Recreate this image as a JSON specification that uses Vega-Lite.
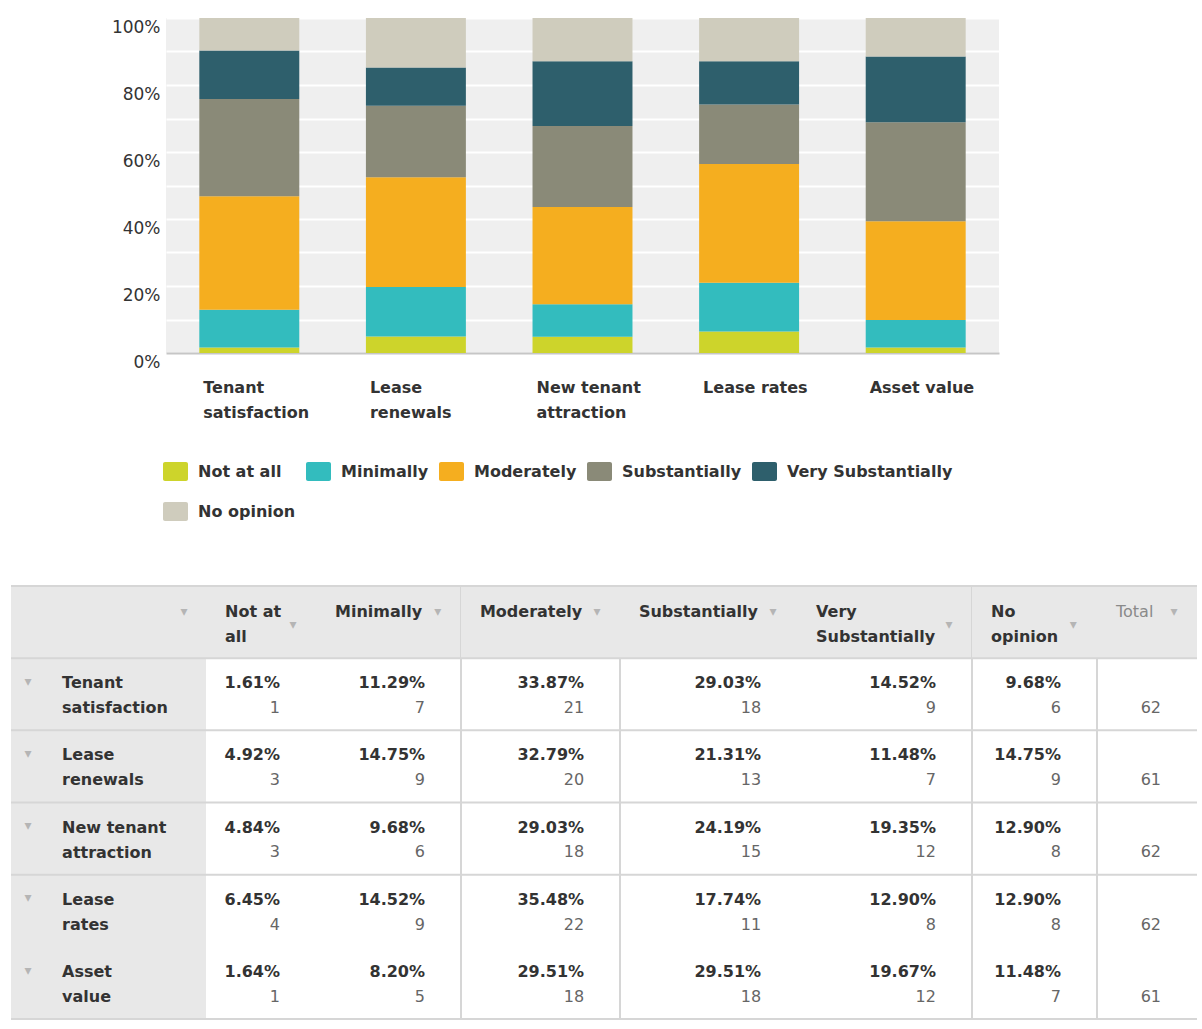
{
"$schema": "https://vega.github.io/schema/vega-lite/v6.json",
"background": "#ffffff",
"padding": {"left": 10, "top": 18, "right": 0, "bottom": 0},
"bounds": "flush",
"spacing": 568,
"config": {"font": "DejaVu Sans", "view": {"stroke": null}},
"resolve": {"scale": {"color": "independent"}, "legend": {"color": "independent"}},
"datasets": {"survey": [
{"category": "Tenant satisfaction", "response": "Not at all", "count": 1, "pct": 1.61},
{"category": "Tenant satisfaction", "response": "Minimally", "count": 7, "pct": 11.29},
{"category": "Tenant satisfaction", "response": "Moderately", "count": 21, "pct": 33.87},
{"category": "Tenant satisfaction", "response": "Substantially", "count": 18, "pct": 29.03},
{"category": "Tenant satisfaction", "response": "Very Substantially", "count": 9, "pct": 14.52},
{"category": "Tenant satisfaction", "response": "No opinion", "count": 6, "pct": 9.68},
{"category": "Lease renewals", "response": "Not at all", "count": 3, "pct": 4.92},
{"category": "Lease renewals", "response": "Minimally", "count": 9, "pct": 14.75},
{"category": "Lease renewals", "response": "Moderately", "count": 20, "pct": 32.79},
{"category": "Lease renewals", "response": "Substantially", "count": 13, "pct": 21.31},
{"category": "Lease renewals", "response": "Very Substantially", "count": 7, "pct": 11.48},
{"category": "Lease renewals", "response": "No opinion", "count": 9, "pct": 14.75},
{"category": "New tenant attraction", "response": "Not at all", "count": 3, "pct": 4.84},
{"category": "New tenant attraction", "response": "Minimally", "count": 6, "pct": 9.68},
{"category": "New tenant attraction", "response": "Moderately", "count": 18, "pct": 29.03},
{"category": "New tenant attraction", "response": "Substantially", "count": 15, "pct": 24.19},
{"category": "New tenant attraction", "response": "Very Substantially", "count": 12, "pct": 19.35},
{"category": "New tenant attraction", "response": "No opinion", "count": 8, "pct": 12.90},
{"category": "Lease rates", "response": "Not at all", "count": 4, "pct": 6.45},
{"category": "Lease rates", "response": "Minimally", "count": 9, "pct": 14.52},
{"category": "Lease rates", "response": "Moderately", "count": 22, "pct": 35.48},
{"category": "Lease rates", "response": "Substantially", "count": 11, "pct": 17.74},
{"category": "Lease rates", "response": "Very Substantially", "count": 8, "pct": 12.90},
{"category": "Lease rates", "response": "No opinion", "count": 8, "pct": 12.90},
{"category": "Asset value", "response": "Not at all", "count": 1, "pct": 1.64},
{"category": "Asset value", "response": "Minimally", "count": 5, "pct": 8.20},
{"category": "Asset value", "response": "Moderately", "count": 18, "pct": 29.51},
{"category": "Asset value", "response": "Substantially", "count": 18, "pct": 29.51},
{"category": "Asset value", "response": "Very Substantially", "count": 12, "pct": 19.67},
{"category": "Asset value", "response": "No opinion", "count": 7, "pct": 11.48}
]},
"vconcat": [
{
"bounds": "flush",
"spacing": 0,
"resolve": {"scale": {"color": "independent"}, "legend": {"color": "independent"}},
"hconcat": [
{"width": 155, "height": 335, "data": {"values": [{"blank": ""}]}, "mark": {"type": "text", "text": ""}},
{
"width": 833, "height": 335,
"data": {"name": "survey"},
"view": {"fill": "#efefef", "stroke": null},
"transform": [{"calculate": "indexof(['Not at all', 'Minimally', 'Moderately', 'Substantially', 'Very Substantially', 'No opinion'], datum.response)", "as": "level"}],
"mark": {"type": "bar"},
"encoding": {
"x": {"field": "category", "type": "nominal", "title": null,
"sort": ["Tenant satisfaction", "Lease renewals", "New tenant attraction", "Lease rates", "Asset value"],
"scale": {"paddingInner": 0.4, "paddingOuter": 0.2},
"axis": {"labelAngle": 0, "labelAlign": "left", "labelOffset": -46, "labelBaseline": "top", "labelPadding": 26, "labelLineHeight": 25, "labelFontSize": 16, "labelFontWeight": "bold", "labelColor": "#333333", "ticks": false, "domainColor": "#c6c6c6", "domainWidth": 2, "labelLimit": 0,
"labelExpr": "datum.label == 'Tenant satisfaction' ? ['Tenant', 'satisfaction'] : datum.label == 'Lease renewals' ? ['Lease', 'renewals'] : datum.label == 'New tenant attraction' ? ['New tenant', 'attraction'] : datum.label"}},
"y": {"field": "count", "type": "quantitative", "stack": "normalize", "title": null,
"scale": {"domain": [0, 1], "nice": false},
"axis": {"values": [0, 0.1, 0.2, 0.3, 0.4, 0.5, 0.6, 0.7, 0.8, 0.9, 1], "format": ".0%", "labelExpr": "round(datum.value * 10) % 2 == 0 ? datum.label : ''", "grid": true, "gridColor": "#ffffff", "gridWidth": 2, "domain": false, "ticks": false, "labelPadding": 6, "labelOffset": 9, "labelFontSize": 17, "labelColor": "#333333"}},
"order": {"field": "level", "type": "quantitative", "sort": "ascending"},
"color": {"field": "response", "type": "nominal",
"sort": ["Not at all", "Minimally", "Moderately", "Substantially", "Very Substantially", "No opinion"],
"scale": {"domain": ["Not at all", "Minimally", "Moderately", "Substantially", "Very Substantially", "No opinion"], "range": ["#cdd42b", "#33bcbe", "#f5ae1f", "#8a8a78", "#2e5f6c", "#cfccbd"]},
"legend": {"title": null, "orient": "none", "legendX": -3, "legendY": 441, "direction": "horizontal", "columns": 5,
"symbolType": "M-0.84,-0.76H0.84A0.16,0.16,0,0,1,1,-0.6V0.6A0.16,0.16,0,0,1,0.84,0.76H-0.84A0.16,0.16,0,0,1,-1,0.6V-0.6A0.16,0.16,0,0,1,-0.84,-0.76Z",
"symbolSize": 625, "symbolStrokeWidth": 0, "symbolOpacity": 1, "labelFontSize": 16, "labelFontWeight": "bold", "labelColor": "#333333", "labelOffset": 10, "columnPadding": 10, "rowPadding": 18, "padding": 0, "labelLimit": 0}}
}
}
]
},
{
"bounds": "flush",
"spacing": 0,
"hconcat": [
{
"width": 195, "height": 433,
"view": {"fill": "#e8e8e8", "stroke": null},
"data": {"name": "survey"},
"layer": [
{"transform": [{"filter": "datum.response == 'Not at all' && datum.category != 'Asset value'"}], "mark": {"type": "rule", "color": "#d6d6d6", "strokeWidth": 2}, "encoding": {"y": {"field": "category", "type": "nominal", "bandPosition": 0, "scale": {"type": "band", "domain": ["Header", "Tenant satisfaction", "Lease renewals", "New tenant attraction", "Lease rates", "Asset value"], "paddingInner": 0, "paddingOuter": 0}, "axis": null}}},
{"transform": [{"filter": "datum.category == 'Tenant satisfaction' && datum.response == 'Not at all'"}], "mark": {"type": "rule", "color": "#d6d6d6", "strokeWidth": 2}, "encoding": {"y": {"datum": "Header", "type": "nominal", "bandPosition": 0, "axis": null}}},
{"transform": [{"filter": "datum.category == 'Tenant satisfaction' && datum.response == 'Not at all'"}], "mark": {"type": "rule", "color": "#d6d6d6", "strokeWidth": 2}, "encoding": {"y": {"datum": "Asset value", "type": "nominal", "bandPosition": 1, "axis": null}}},
{"transform": [{"filter": "datum.response == 'Not at all'"}, {"calculate": "datum.category == 'New tenant attraction' ? ['New tenant', 'attraction'] : split(datum.category, ' ')", "as": "lines"}],
"mark": {"type": "text", "align": "left", "baseline": "top", "fontSize": 16, "fontWeight": "bold", "color": "#333333", "lineHeight": 25},
"encoding": {"x": {"field": "response", "type": "nominal", "bandPosition": 0.262, "scale": {"type": "band", "paddingInner": 0, "paddingOuter": 0}, "axis": null}, "y": {"field": "category", "type": "nominal", "bandPosition": 0.236, "axis": null}, "text": {"field": "lines"}}},
{"transform": [{"filter": "datum.response == 'Not at all'"}],
"mark": {"type": "text", "align": "center", "baseline": "middle", "fontSize": 14, "color": "#b5b5b5", "text": "▾"},
"encoding": {"x": {"field": "response", "type": "nominal", "bandPosition": 0.087, "axis": null}, "y": {"field": "category", "type": "nominal", "bandPosition": 0.33, "axis": null}}},
{"transform": [{"filter": "datum.category == 'Tenant satisfaction' && datum.response == 'Not at all'"}],
"mark": {"type": "text", "align": "center", "baseline": "middle", "fontSize": 14, "color": "#b5b5b5", "text": "▾"},
"encoding": {"x": {"field": "response", "type": "nominal", "bandPosition": 0.887, "axis": null}, "y": {"datum": "Header", "type": "nominal", "bandPosition": 0.36, "axis": null}}}
]
},
{
"width": 110, "height": 433,
"data": {"name": "survey"},
"layer": [
{"transform": [{"filter": "datum.category == 'Tenant satisfaction' && datum.response == 'Not at all'"}], "mark": {"type": "rect", "color": "#e8e8e8"}, "encoding": {"y": {"datum": "Header", "type": "nominal", "scale": {"type": "band", "domain": ["Header", "Tenant satisfaction", "Lease renewals", "New tenant attraction", "Lease rates", "Asset value"], "paddingInner": 0, "paddingOuter": 0}, "axis": null}}},
{"transform": [{"filter": "datum.response == 'Not at all' && datum.category != 'Asset value'"}], "mark": {"type": "rule", "color": "#d6d6d6", "strokeWidth": 2}, "encoding": {"y": {"field": "category", "type": "nominal", "bandPosition": 0, "axis": null}}},
{"transform": [{"filter": "datum.category == 'Tenant satisfaction' && datum.response == 'Not at all'"}], "mark": {"type": "rule", "color": "#d6d6d6", "strokeWidth": 2}, "encoding": {"y": {"datum": "Header", "type": "nominal", "bandPosition": 0, "axis": null}}},
{"transform": [{"filter": "datum.category == 'Tenant satisfaction' && datum.response == 'Not at all'"}], "mark": {"type": "rule", "color": "#d6d6d6", "strokeWidth": 2}, "encoding": {"y": {"datum": "Asset value", "type": "nominal", "bandPosition": 1, "axis": null}}},
{"transform": [{"filter": "datum.response == 'Not at all'"}, {"calculate": "format(datum.pct, '.2f') + '%'", "as": "pctLabel"}],
"mark": {"type": "text", "align": "right", "baseline": "top", "fontSize": 16, "fontWeight": "bold", "color": "#333333"},
"encoding": {"x": {"field": "response", "type": "nominal", "bandPosition": 0.673, "scale": {"type": "band", "paddingInner": 0, "paddingOuter": 0}, "axis": null}, "y": {"field": "category", "type": "nominal", "bandPosition": 0.236, "axis": null}, "text": {"field": "pctLabel"}}},
{"transform": [{"filter": "datum.response == 'Not at all'"}],
"mark": {"type": "text", "align": "right", "baseline": "top", "fontSize": 16, "color": "#666666"},
"encoding": {"x": {"field": "response", "type": "nominal", "bandPosition": 0.673, "axis": null}, "y": {"field": "category", "type": "nominal", "bandPosition": 0.58, "axis": null}, "text": {"field": "count", "type": "quantitative"}}},
{"transform": [{"filter": "datum.category == 'Tenant satisfaction' && datum.response == 'Not at all'"}],
"mark": {"type": "text", "align": "left", "baseline": "top", "fontSize": 16, "fontWeight": "bold", "color": "#333333", "lineHeight": 25},
"encoding": {"x": {"field": "response", "type": "nominal", "bandPosition": 0.173, "axis": null}, "y": {"datum": "Header", "type": "nominal", "bandPosition": 0.25, "axis": null}, "text": {"value": ["Not at", "all"]}}},
{"transform": [{"filter": "datum.category == 'Tenant satisfaction' && datum.response == 'Not at all'"}],
"mark": {"type": "text", "align": "center", "baseline": "middle", "fontSize": 14, "color": "#b5b5b5", "text": "▾"},
"encoding": {"x": {"field": "response", "type": "nominal", "bandPosition": 0.79, "axis": null}, "y": {"datum": "Header", "type": "nominal", "bandPosition": 0.54, "axis": null}}}
]
},
{
"width": 145, "height": 433,
"data": {"name": "survey"},
"layer": [
{"transform": [{"filter": "datum.category == 'Tenant satisfaction' && datum.response == 'Not at all'"}], "mark": {"type": "rect", "color": "#e8e8e8"}, "encoding": {"y": {"datum": "Header", "type": "nominal", "scale": {"type": "band", "domain": ["Header", "Tenant satisfaction", "Lease renewals", "New tenant attraction", "Lease rates", "Asset value"], "paddingInner": 0, "paddingOuter": 0}, "axis": null}}},
{"transform": [{"filter": "datum.response == 'Not at all' && datum.category != 'Asset value'"}], "mark": {"type": "rule", "color": "#d6d6d6", "strokeWidth": 2}, "encoding": {"y": {"field": "category", "type": "nominal", "bandPosition": 0, "axis": null}}},
{"transform": [{"filter": "datum.category == 'Tenant satisfaction' && datum.response == 'Not at all'"}], "mark": {"type": "rule", "color": "#d6d6d6", "strokeWidth": 2}, "encoding": {"y": {"datum": "Header", "type": "nominal", "bandPosition": 0, "axis": null}}},
{"transform": [{"filter": "datum.category == 'Tenant satisfaction' && datum.response == 'Not at all'"}], "mark": {"type": "rule", "color": "#d6d6d6", "strokeWidth": 2}, "encoding": {"y": {"datum": "Asset value", "type": "nominal", "bandPosition": 1, "axis": null}}},
{"transform": [{"filter": "datum.response == 'Minimally'"}, {"calculate": "format(datum.pct, '.2f') + '%'", "as": "pctLabel"}],
"mark": {"type": "text", "align": "right", "baseline": "top", "fontSize": 16, "fontWeight": "bold", "color": "#333333"},
"encoding": {"x": {"field": "response", "type": "nominal", "bandPosition": 0.752, "scale": {"type": "band", "paddingInner": 0, "paddingOuter": 0}, "axis": null}, "y": {"field": "category", "type": "nominal", "bandPosition": 0.236, "axis": null}, "text": {"field": "pctLabel"}}},
{"transform": [{"filter": "datum.response == 'Minimally'"}],
"mark": {"type": "text", "align": "right", "baseline": "top", "fontSize": 16, "color": "#666666"},
"encoding": {"x": {"field": "response", "type": "nominal", "bandPosition": 0.752, "axis": null}, "y": {"field": "category", "type": "nominal", "bandPosition": 0.58, "axis": null}, "text": {"field": "count", "type": "quantitative"}}},
{"transform": [{"filter": "datum.category == 'Tenant satisfaction' && datum.response == 'Minimally'"}],
"mark": {"type": "text", "align": "left", "baseline": "top", "fontSize": 16, "fontWeight": "bold", "color": "#333333", "lineHeight": 25},
"encoding": {"x": {"field": "response", "type": "nominal", "bandPosition": 0.131, "axis": null}, "y": {"datum": "Header", "type": "nominal", "bandPosition": 0.25, "axis": null}, "text": {"value": "Minimally"}}},
{"transform": [{"filter": "datum.category == 'Tenant satisfaction' && datum.response == 'Minimally'"}],
"mark": {"type": "text", "align": "center", "baseline": "middle", "fontSize": 14, "color": "#b5b5b5", "text": "▾"},
"encoding": {"x": {"field": "response", "type": "nominal", "bandPosition": 0.84, "axis": null}, "y": {"datum": "Header", "type": "nominal", "bandPosition": 0.36, "axis": null}}}
]
},
{
"width": 159, "height": 433,
"view": {"stroke": "#d6d6d6", "strokeWidth": 2},
"data": {"name": "survey"},
"layer": [
{"transform": [{"filter": "datum.category == 'Tenant satisfaction' && datum.response == 'Not at all'"}], "mark": {"type": "rect", "color": "#e8e8e8"}, "encoding": {"y": {"datum": "Header", "type": "nominal", "scale": {"type": "band", "domain": ["Header", "Tenant satisfaction", "Lease renewals", "New tenant attraction", "Lease rates", "Asset value"], "paddingInner": 0, "paddingOuter": 0}, "axis": null}}},
{"transform": [{"filter": "datum.response == 'Not at all' && datum.category != 'Asset value'"}], "mark": {"type": "rule", "color": "#d6d6d6", "strokeWidth": 2}, "encoding": {"y": {"field": "category", "type": "nominal", "bandPosition": 0, "axis": null}}},
{"transform": [{"filter": "datum.category == 'Tenant satisfaction' && datum.response == 'Not at all'"}], "mark": {"type": "rule", "color": "#d6d6d6", "strokeWidth": 2}, "encoding": {"y": {"datum": "Header", "type": "nominal", "bandPosition": 0, "axis": null}}},
{"transform": [{"filter": "datum.category == 'Tenant satisfaction' && datum.response == 'Not at all'"}], "mark": {"type": "rule", "color": "#d6d6d6", "strokeWidth": 2}, "encoding": {"y": {"datum": "Asset value", "type": "nominal", "bandPosition": 1, "axis": null}}},
{"transform": [{"filter": "datum.response == 'Moderately'"}, {"calculate": "format(datum.pct, '.2f') + '%'", "as": "pctLabel"}],
"mark": {"type": "text", "align": "right", "baseline": "top", "fontSize": 16, "fontWeight": "bold", "color": "#333333"},
"encoding": {"x": {"field": "response", "type": "nominal", "bandPosition": 0.774, "scale": {"type": "band", "paddingInner": 0, "paddingOuter": 0}, "axis": null}, "y": {"field": "category", "type": "nominal", "bandPosition": 0.236, "axis": null}, "text": {"field": "pctLabel"}}},
{"transform": [{"filter": "datum.response == 'Moderately'"}],
"mark": {"type": "text", "align": "right", "baseline": "top", "fontSize": 16, "color": "#666666"},
"encoding": {"x": {"field": "response", "type": "nominal", "bandPosition": 0.774, "axis": null}, "y": {"field": "category", "type": "nominal", "bandPosition": 0.58, "axis": null}, "text": {"field": "count", "type": "quantitative"}}},
{"transform": [{"filter": "datum.category == 'Tenant satisfaction' && datum.response == 'Moderately'"}],
"mark": {"type": "text", "align": "left", "baseline": "top", "fontSize": 16, "fontWeight": "bold", "color": "#333333", "lineHeight": 25},
"encoding": {"x": {"field": "response", "type": "nominal", "bandPosition": 0.119, "axis": null}, "y": {"datum": "Header", "type": "nominal", "bandPosition": 0.25, "axis": null}, "text": {"value": "Moderately"}}},
{"transform": [{"filter": "datum.category == 'Tenant satisfaction' && datum.response == 'Moderately'"}],
"mark": {"type": "text", "align": "center", "baseline": "middle", "fontSize": 14, "color": "#b5b5b5", "text": "▾"},
"encoding": {"x": {"field": "response", "type": "nominal", "bandPosition": 0.855, "axis": null}, "y": {"datum": "Header", "type": "nominal", "bandPosition": 0.36, "axis": null}}}
]
},
{
"width": 177, "height": 433,
"data": {"name": "survey"},
"layer": [
{"transform": [{"filter": "datum.category == 'Tenant satisfaction' && datum.response == 'Not at all'"}], "mark": {"type": "rect", "color": "#e8e8e8"}, "encoding": {"y": {"datum": "Header", "type": "nominal", "scale": {"type": "band", "domain": ["Header", "Tenant satisfaction", "Lease renewals", "New tenant attraction", "Lease rates", "Asset value"], "paddingInner": 0, "paddingOuter": 0}, "axis": null}}},
{"transform": [{"filter": "datum.response == 'Not at all' && datum.category != 'Asset value'"}], "mark": {"type": "rule", "color": "#d6d6d6", "strokeWidth": 2}, "encoding": {"y": {"field": "category", "type": "nominal", "bandPosition": 0, "axis": null}}},
{"transform": [{"filter": "datum.category == 'Tenant satisfaction' && datum.response == 'Not at all'"}], "mark": {"type": "rule", "color": "#d6d6d6", "strokeWidth": 2}, "encoding": {"y": {"datum": "Header", "type": "nominal", "bandPosition": 0, "axis": null}}},
{"transform": [{"filter": "datum.category == 'Tenant satisfaction' && datum.response == 'Not at all'"}], "mark": {"type": "rule", "color": "#d6d6d6", "strokeWidth": 2}, "encoding": {"y": {"datum": "Asset value", "type": "nominal", "bandPosition": 1, "axis": null}}},
{"transform": [{"filter": "datum.response == 'Substantially'"}, {"calculate": "format(datum.pct, '.2f') + '%'", "as": "pctLabel"}],
"mark": {"type": "text", "align": "right", "baseline": "top", "fontSize": 16, "fontWeight": "bold", "color": "#333333"},
"encoding": {"x": {"field": "response", "type": "nominal", "bandPosition": 0.797, "scale": {"type": "band", "paddingInner": 0, "paddingOuter": 0}, "axis": null}, "y": {"field": "category", "type": "nominal", "bandPosition": 0.236, "axis": null}, "text": {"field": "pctLabel"}}},
{"transform": [{"filter": "datum.response == 'Substantially'"}],
"mark": {"type": "text", "align": "right", "baseline": "top", "fontSize": 16, "color": "#666666"},
"encoding": {"x": {"field": "response", "type": "nominal", "bandPosition": 0.797, "axis": null}, "y": {"field": "category", "type": "nominal", "bandPosition": 0.58, "axis": null}, "text": {"field": "count", "type": "quantitative"}}},
{"transform": [{"filter": "datum.category == 'Tenant satisfaction' && datum.response == 'Substantially'"}],
"mark": {"type": "text", "align": "left", "baseline": "top", "fontSize": 16, "fontWeight": "bold", "color": "#333333", "lineHeight": 25},
"encoding": {"x": {"field": "response", "type": "nominal", "bandPosition": 0.107, "axis": null}, "y": {"datum": "Header", "type": "nominal", "bandPosition": 0.25, "axis": null}, "text": {"value": "Substantially"}}},
{"transform": [{"filter": "datum.category == 'Tenant satisfaction' && datum.response == 'Substantially'"}],
"mark": {"type": "text", "align": "center", "baseline": "middle", "fontSize": 14, "color": "#b5b5b5", "text": "▾"},
"encoding": {"x": {"field": "response", "type": "nominal", "bandPosition": 0.864, "axis": null}, "y": {"datum": "Header", "type": "nominal", "bandPosition": 0.36, "axis": null}}}
]
},
{
"width": 175, "height": 433,
"data": {"name": "survey"},
"layer": [
{"transform": [{"filter": "datum.category == 'Tenant satisfaction' && datum.response == 'Not at all'"}], "mark": {"type": "rect", "color": "#e8e8e8"}, "encoding": {"y": {"datum": "Header", "type": "nominal", "scale": {"type": "band", "domain": ["Header", "Tenant satisfaction", "Lease renewals", "New tenant attraction", "Lease rates", "Asset value"], "paddingInner": 0, "paddingOuter": 0}, "axis": null}}},
{"transform": [{"filter": "datum.response == 'Not at all' && datum.category != 'Asset value'"}], "mark": {"type": "rule", "color": "#d6d6d6", "strokeWidth": 2}, "encoding": {"y": {"field": "category", "type": "nominal", "bandPosition": 0, "axis": null}}},
{"transform": [{"filter": "datum.category == 'Tenant satisfaction' && datum.response == 'Not at all'"}], "mark": {"type": "rule", "color": "#d6d6d6", "strokeWidth": 2}, "encoding": {"y": {"datum": "Header", "type": "nominal", "bandPosition": 0, "axis": null}}},
{"transform": [{"filter": "datum.category == 'Tenant satisfaction' && datum.response == 'Not at all'"}], "mark": {"type": "rule", "color": "#d6d6d6", "strokeWidth": 2}, "encoding": {"y": {"datum": "Asset value", "type": "nominal", "bandPosition": 1, "axis": null}}},
{"transform": [{"filter": "datum.response == 'Very Substantially'"}, {"calculate": "format(datum.pct, '.2f') + '%'", "as": "pctLabel"}],
"mark": {"type": "text", "align": "right", "baseline": "top", "fontSize": 16, "fontWeight": "bold", "color": "#333333"},
"encoding": {"x": {"field": "response", "type": "nominal", "bandPosition": 0.794, "scale": {"type": "band", "paddingInner": 0, "paddingOuter": 0}, "axis": null}, "y": {"field": "category", "type": "nominal", "bandPosition": 0.236, "axis": null}, "text": {"field": "pctLabel"}}},
{"transform": [{"filter": "datum.response == 'Very Substantially'"}],
"mark": {"type": "text", "align": "right", "baseline": "top", "fontSize": 16, "color": "#666666"},
"encoding": {"x": {"field": "response", "type": "nominal", "bandPosition": 0.794, "axis": null}, "y": {"field": "category", "type": "nominal", "bandPosition": 0.58, "axis": null}, "text": {"field": "count", "type": "quantitative"}}},
{"transform": [{"filter": "datum.category == 'Tenant satisfaction' && datum.response == 'Very Substantially'"}],
"mark": {"type": "text", "align": "left", "baseline": "top", "fontSize": 16, "fontWeight": "bold", "color": "#333333", "lineHeight": 25},
"encoding": {"x": {"field": "response", "type": "nominal", "bandPosition": 0.109, "axis": null}, "y": {"datum": "Header", "type": "nominal", "bandPosition": 0.25, "axis": null}, "text": {"value": ["Very", "Substantially"]}}},
{"transform": [{"filter": "datum.category == 'Tenant satisfaction' && datum.response == 'Very Substantially'"}],
"mark": {"type": "text", "align": "center", "baseline": "middle", "fontSize": 14, "color": "#b5b5b5", "text": "▾"},
"encoding": {"x": {"field": "response", "type": "nominal", "bandPosition": 0.869, "axis": null}, "y": {"datum": "Header", "type": "nominal", "bandPosition": 0.54, "axis": null}}}
]
},
{
"width": 125, "height": 433,
"view": {"stroke": "#d6d6d6", "strokeWidth": 2},
"data": {"name": "survey"},
"layer": [
{"transform": [{"filter": "datum.category == 'Tenant satisfaction' && datum.response == 'Not at all'"}], "mark": {"type": "rect", "color": "#e8e8e8"}, "encoding": {"y": {"datum": "Header", "type": "nominal", "scale": {"type": "band", "domain": ["Header", "Tenant satisfaction", "Lease renewals", "New tenant attraction", "Lease rates", "Asset value"], "paddingInner": 0, "paddingOuter": 0}, "axis": null}}},
{"transform": [{"filter": "datum.response == 'Not at all' && datum.category != 'Asset value'"}], "mark": {"type": "rule", "color": "#d6d6d6", "strokeWidth": 2}, "encoding": {"y": {"field": "category", "type": "nominal", "bandPosition": 0, "axis": null}}},
{"transform": [{"filter": "datum.category == 'Tenant satisfaction' && datum.response == 'Not at all'"}], "mark": {"type": "rule", "color": "#d6d6d6", "strokeWidth": 2}, "encoding": {"y": {"datum": "Header", "type": "nominal", "bandPosition": 0, "axis": null}}},
{"transform": [{"filter": "datum.category == 'Tenant satisfaction' && datum.response == 'Not at all'"}], "mark": {"type": "rule", "color": "#d6d6d6", "strokeWidth": 2}, "encoding": {"y": {"datum": "Asset value", "type": "nominal", "bandPosition": 1, "axis": null}}},
{"transform": [{"filter": "datum.response == 'No opinion'"}, {"calculate": "format(datum.pct, '.2f') + '%'", "as": "pctLabel"}],
"mark": {"type": "text", "align": "right", "baseline": "top", "fontSize": 16, "fontWeight": "bold", "color": "#333333"},
"encoding": {"x": {"field": "response", "type": "nominal", "bandPosition": 0.712, "scale": {"type": "band", "paddingInner": 0, "paddingOuter": 0}, "axis": null}, "y": {"field": "category", "type": "nominal", "bandPosition": 0.236, "axis": null}, "text": {"field": "pctLabel"}}},
{"transform": [{"filter": "datum.response == 'No opinion'"}],
"mark": {"type": "text", "align": "right", "baseline": "top", "fontSize": 16, "color": "#666666"},
"encoding": {"x": {"field": "response", "type": "nominal", "bandPosition": 0.712, "axis": null}, "y": {"field": "category", "type": "nominal", "bandPosition": 0.58, "axis": null}, "text": {"field": "count", "type": "quantitative"}}},
{"transform": [{"filter": "datum.category == 'Tenant satisfaction' && datum.response == 'No opinion'"}],
"mark": {"type": "text", "align": "left", "baseline": "top", "fontSize": 16, "fontWeight": "bold", "color": "#333333", "lineHeight": 25},
"encoding": {"x": {"field": "response", "type": "nominal", "bandPosition": 0.152, "axis": null}, "y": {"datum": "Header", "type": "nominal", "bandPosition": 0.25, "axis": null}, "text": {"value": ["No", "opinion"]}}},
{"transform": [{"filter": "datum.category == 'Tenant satisfaction' && datum.response == 'No opinion'"}],
"mark": {"type": "text", "align": "center", "baseline": "middle", "fontSize": 14, "color": "#b5b5b5", "text": "▾"},
"encoding": {"x": {"field": "response", "type": "nominal", "bandPosition": 0.81, "axis": null}, "y": {"datum": "Header", "type": "nominal", "bandPosition": 0.54, "axis": null}}}
]
},
{
"width": 100, "height": 433,
"data": {"name": "survey"},
"layer": [
{"transform": [{"filter": "datum.category == 'Tenant satisfaction' && datum.response == 'Not at all'"}], "mark": {"type": "rect", "color": "#e8e8e8"}, "encoding": {"y": {"datum": "Header", "type": "nominal", "scale": {"type": "band", "domain": ["Header", "Tenant satisfaction", "Lease renewals", "New tenant attraction", "Lease rates", "Asset value"], "paddingInner": 0, "paddingOuter": 0}, "axis": null}}},
{"transform": [{"filter": "datum.response == 'Not at all' && datum.category != 'Asset value'"}], "mark": {"type": "rule", "color": "#d6d6d6", "strokeWidth": 2}, "encoding": {"y": {"field": "category", "type": "nominal", "bandPosition": 0, "axis": null}}},
{"transform": [{"filter": "datum.category == 'Tenant satisfaction' && datum.response == 'Not at all'"}], "mark": {"type": "rule", "color": "#d6d6d6", "strokeWidth": 2}, "encoding": {"y": {"datum": "Header", "type": "nominal", "bandPosition": 0, "axis": null}}},
{"transform": [{"filter": "datum.category == 'Tenant satisfaction' && datum.response == 'Not at all'"}], "mark": {"type": "rule", "color": "#d6d6d6", "strokeWidth": 2}, "encoding": {"y": {"datum": "Asset value", "type": "nominal", "bandPosition": 1, "axis": null}}},
{"transform": [{"aggregate": [{"op": "sum", "field": "count", "as": "total"}], "groupby": ["category"]}],
"mark": {"type": "text", "align": "right", "baseline": "top", "fontSize": 16, "color": "#666666"},
"encoding": {"x": {"datum": "Total", "type": "nominal", "bandPosition": 0.64, "scale": {"type": "band", "paddingInner": 0, "paddingOuter": 0}, "axis": null}, "y": {"field": "category", "type": "nominal", "bandPosition": 0.58, "axis": null}, "text": {"field": "total", "type": "quantitative"}}},
{"transform": [{"filter": "datum.category == 'Tenant satisfaction' && datum.response == 'Not at all'"}],
"mark": {"type": "text", "align": "left", "baseline": "top", "fontSize": 16, "color": "#8a8a8a"},
"encoding": {"x": {"datum": "Total", "type": "nominal", "bandPosition": 0.19, "axis": null}, "y": {"datum": "Header", "type": "nominal", "bandPosition": 0.25, "axis": null}, "text": {"value": "Total"}}},
{"transform": [{"filter": "datum.category == 'Tenant satisfaction' && datum.response == 'Not at all'"}],
"mark": {"type": "text", "align": "center", "baseline": "middle", "fontSize": 14, "color": "#b5b5b5", "text": "▾"},
"encoding": {"x": {"datum": "Total", "type": "nominal", "bandPosition": 0.77, "axis": null}, "y": {"datum": "Header", "type": "nominal", "bandPosition": 0.36, "axis": null}}}
]
}
]
}
]
}
